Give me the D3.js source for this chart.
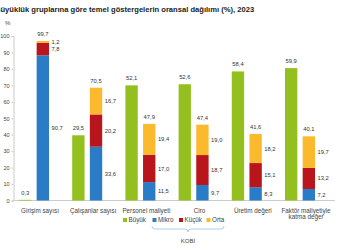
<!DOCTYPE html>
<html>
<head>
<meta charset="utf-8">
<script src="https://cdn.jsdelivr.net/npm/d3@7"></script>
<style>
  body { margin: 0; background: #fff; }
  svg { display: block; font-family: "Liberation Sans", Arial, sans-serif; }
</style>
</head>
<body>
<script>
// data
var categories = ["Girişim sayısı", "Çalışanlar sayısı", "Personel maliyeti", "Ciro", "Üretim değeri", "Faktör maliyetiyle katma değer"];
var buyuk = [0.3, 29.5, 52.1, 52.6, 58.4, 59.9];
var mikro = [90.7, 33.6, 11.5, 9.7, 8.3, 7.2];
var kucuk = [7.8, 20.2, 17.0, 18.7, 15.1, 13.2];
var orta = [1.2, 16.7, 19.4, 19.0, 18.2, 19.7];
var kobi = [99.7, 70.5, 47.9, 47.4, 41.6, 40.1];
var yTicks = [0, 10, 20, 30, 40, 50, 60, 70, 80, 90, 100];
var legendNames = ["Büyük", "Mikro", "Küçük", "Orta"];

var colors = {Büyük: "#93c01f", Mikro: "#2b7cc6", Küçük: "#b8151d", Orta: "#fbb92d"};

var width = 350, height = 250;
var baseY = 200.5;

var svg = d3.select("body").append("svg")
  .attr("width", width)
  .attr("height", height);

var fmt = function(v) { return d3.format(".1f")(v).replace(".", ","); };

// title (cut on the left like the original)
svg.append("text")
  .attr("x", -5)
  .attr("y", 11.5)
  .attr("font-size", 7.6)
  .attr("font-weight", "bold")
  .attr("fill", "#222")
  .text("Büyüklük gruplarına göre temel göstergelerin oransal dağılımı (%), 2023");

svg.append("text")
  .attr("x", 5)
  .attr("y", 25)
  .attr("font-size", 6)
  .attr("fill", "#444")
  .text("%");

var x0 = d3.scaleBand()
  .domain(categories)
  .range([7.4, 326.6]);

// axis scale and bar scales (Büyük is on its own hidden axis)
var yAxisScale = d3.scaleLinear().domain([0, 100]).range([baseY, 36]);
var y = d3.scaleLinear().domain([0, 100]).range([baseY, 40.5]);
var yB = d3.scaleLinear().domain([0, 72.4]).range([baseY, 40.5]);

var yAxis = d3.axisLeft(yAxisScale)
  .tickValues(yTicks)
  .tickSize(2)
  .tickPadding(2);

var gy = svg.append("g")
  .attr("transform", "translate(13.5,0)")
  .call(yAxis);
gy.select(".domain").attr("stroke", "#ccc");
gy.selectAll(".tick line").attr("stroke", "#ccc");
gy.selectAll(".tick text").attr("font-size", 5.5).attr("fill", "#444");

svg.append("line")
  .attr("x1", 13.5).attr("x2", 335)
  .attr("y1", baseY).attr("y2", baseY)
  .attr("stroke", "#ccc");

var groups = categories.map(function(c, i) {
  var center = x0(c) + x0.bandwidth() / 2;
  return {cat: c, i: i, center: center};
});

var x1 = d3.scaleBand().domain(["b", "k"]).range([-15, 15]).paddingInner(0.3);

var g = svg.selectAll(".grp").data(groups).enter().append("g")
  .attr("transform", function(d) { return "translate(" + d.center + ",0)"; });

// Büyük bars
g.append("rect")
  .attr("x", x1("b"))
  .attr("width", x1.bandwidth())
  .attr("y", function(d) { return yB(buyuk[d.i]); })
  .attr("height", function(d) { return baseY - yB(buyuk[d.i]); })
  .attr("fill", colors["Büyük"]);

g.append("text")
  .attr("x", x1("b") + x1.bandwidth() / 2)
  .attr("y", function(d) { return yB(buyuk[d.i]) - 5; })
  .attr("text-anchor", "middle")
  .attr("font-size", 5.8)
  .attr("fill", "#333")
  .text(function(d) { return fmt(buyuk[d.i]); });

// stacked KOBİ bars
var stackData = categories.map(function(c, i) {
  return {Mikro: mikro[i], Küçük: kucuk[i], Orta: orta[i]};
});
var series = d3.stack().keys(["Mikro", "Küçük", "Orta"])(stackData);

series.forEach(function(s) {
  g.append("rect")
    .attr("x", x1("k"))
    .attr("width", x1.bandwidth())
    .attr("y", function(d) { return y(s[d.i][1]); })
    .attr("height", function(d) { return y(s[d.i][0]) - y(s[d.i][1]); })
    .attr("fill", colors[s.key]);

  g.append("text")
    .attr("x", x1("k") + x1.bandwidth() + 2.5)
    .attr("y", function(d) { return (y(s[d.i][0]) + y(s[d.i][1])) / 2; })
    .attr("dy", "0.35em")
    .attr("font-size", 5.8)
    .attr("fill", "#333")
    .text(function(d) { return fmt(s[d.i][1] - s[d.i][0]); });
});

g.append("text")
  .attr("x", x1("k") + x1.bandwidth() / 2)
  .attr("y", function(d) { return y(kobi[d.i]) - 5; })
  .attr("text-anchor", "middle")
  .attr("font-size", 5.8)
  .attr("fill", "#333")
  .text(function(d) { return fmt(kobi[d.i]); });

// category labels
var catLabels = svg.selectAll(".cat").data(groups).enter().append("text")
  .attr("text-anchor", "middle")
  .attr("font-size", 6.3)
  .attr("fill", "#444");
catLabels.each(function(d) {
  var t = d3.select(this);
  var lines = d.cat === "Faktör maliyetiyle katma değer" ? ["Faktör maliyetiyle", "katma değer"] : [d.cat];
  lines.forEach(function(l, k) {
    t.append("tspan")
      .attr("x", d.center + 6)
      .attr("y", 212.5 + k * 6.5)
      .text(l);
  });
});

// legend
var legendX = [123, 152.5, 179, 206.5];
var lg = svg.selectAll(".leg").data(legendNames).enter().append("g")
  .attr("transform", function(d, i) { return "translate(" + legendX[i] + ",220)"; });
lg.append("rect")
  .attr("x", 0).attr("y", -2)
  .attr("width", 4).attr("height", 4)
  .attr("fill", function(d) { return colors[d]; });
lg.append("text")
  .attr("x", 5.5)
  .attr("y", 0)
  .attr("dy", "0.35em")
  .attr("font-size", 6.3)
  .attr("fill", "#444")
  .text(function(d) { return d; });

// KOBİ brace
var bx1 = 152, bx2 = 224, bm = (bx1 + bx2) / 2, by = 226;
svg.append("path")
  .attr("d", "M" + bx1 + "," + by + " Q" + bx1 + "," + (by + 3) + " " + (bx1 + 3) + "," + (by + 3) +
    " L" + (bm - 3) + "," + (by + 3) + " Q" + bm + "," + (by + 3) + " " + bm + "," + (by + 6) +
    " Q" + bm + "," + (by + 3) + " " + (bm + 3) + "," + (by + 3) +
    " L" + (bx2 - 3) + "," + (by + 3) + " Q" + bx2 + "," + (by + 3) + " " + bx2 + "," + by)
  .attr("fill", "none")
  .attr("stroke", "#9cc3e5")
  .attr("stroke-width", 0.8);

svg.append("text")
  .attr("x", bm)
  .attr("y", 242.5)
  .attr("text-anchor", "middle")
  .attr("font-size", 6)
  .attr("fill", "#444")
  .text("KOBİ");
</script>
</body>
</html>
